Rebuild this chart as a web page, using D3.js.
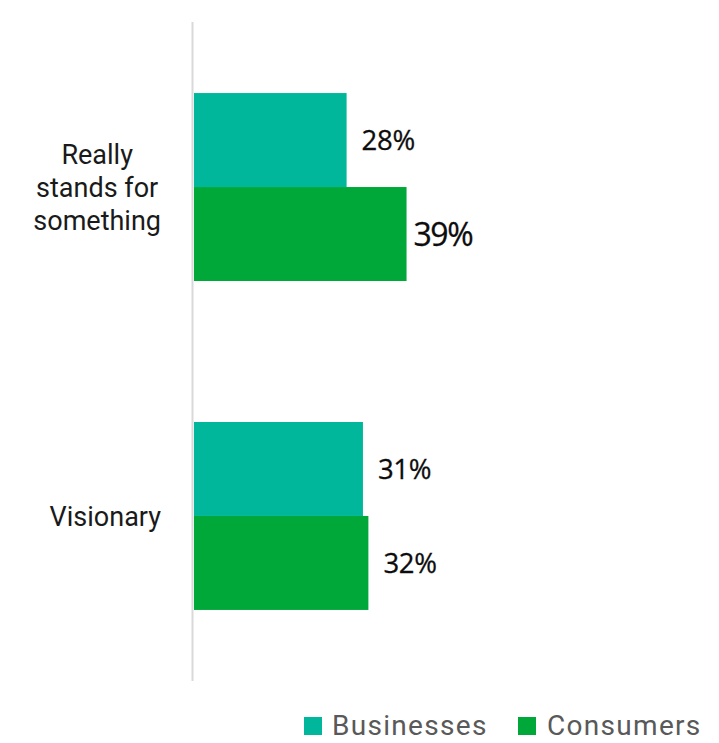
<!DOCTYPE html>
<html>
<head>
<meta charset="utf-8">
<script src="https://cdn.jsdelivr.net/npm/d3@7/dist/d3.min.js"></script>
<style>
  html, body { margin: 0; padding: 0; background: #fff; }
  svg { display: block; }
</style>
</head>
<body>
<svg id="chart" width="719" height="743"></svg>
<script>
// Share of respondents describing the brand with each attribute
const categories = [["Really", "stands for", "something"], ["Visionary"]];
const categoryKeys = ["Really stands for something", "Visionary"];
const seriesNames = ["Businesses", "Consumers"];
const businesses = [28, 31];
const consumers = [39, 32];
const seriesValues = [businesses, consumers];

const colors = { Businesses: "#00b79b", Consumers: "#00a83a" };

const svg = d3.select("#chart");

const x = d3.scaleLinear().domain([0, 40]).range([194, 412]);
const y = d3.scaleBand().domain(categoryKeys).range([22, 681])
  .paddingInner(0.4286).paddingOuter(0.216);
const ySub = d3.scaleBand().domain(seriesNames).range([0, y.bandwidth()]).padding(0);

const rows = [];
categoryKeys.forEach((c, i) => {
  seriesNames.forEach((s, j) => rows.push({ cat: c, series: s, value: seriesValues[j][i] }));
});
const maxVal = d3.max(rows, d => d.value);

// bars
svg.append("g").selectAll("rect").data(rows).join("rect")
  .attr("x", x(0))
  .attr("y", d => y(d.cat) + ySub(d.series))
  .attr("width", d => x(d.value) - x(0))
  .attr("height", ySub.bandwidth())
  .attr("fill", d => colors[d.series]);

// vertical axis line
svg.append("line")
  .attr("x1", 192.5).attr("x2", 192.5)
  .attr("y1", y.range()[0]).attr("y2", y.range()[1])
  .attr("stroke", "#d9d9d9").attr("stroke-width", 2);

// value labels (largest value drawn a little larger)
svg.append("g").selectAll("text").data(rows).join("text")
  .attr("x", d => x(d.value) + (d.value === maxVal ? 7 : 15))
  .attr("y", d => y(d.cat) + ySub(d.series) + ySub.bandwidth() / 2)
  .attr("dy", "0.36em")
  .attr("font-family", "'Open Sans', sans-serif")
  .attr("font-size", d => d.value === maxVal ? 32 : 27.5)
  .attr("letter-spacing", d => d.value === maxVal ? -1.5 : -0.3)
  .attr("fill", "#0d0d0d")
  .attr("stroke", "#0d0d0d").attr("stroke-width", 0.3)
  .text(d => d.value + "%");

// category labels: lines centred within a block right-aligned to the axis
const labelRight = 161;
const lineH = 33;
categoryKeys.forEach((c, i) => {
  const lines = categories[i];
  const g = svg.append("g");
  const cy = y(c) + y.bandwidth() / 2;
  const t = g.selectAll("text").data(lines).join("text")
    .attr("font-family", "Roboto, sans-serif")
    .attr("font-size", 27)
    .attr("fill", "#1a1a1a")
    .attr("text-anchor", "middle")
    .attr("y", (d, k) => cy + (k - (lines.length - 1) / 2) * lineH)
    .attr("dy", "0.36em")
    .text(d => d);
  let maxW = 0;
  t.each(function () { maxW = Math.max(maxW, this.getComputedTextLength()); });
  t.attr("x", labelRight - maxW / 2);
});

// legend
const legend = svg.append("g");
const legendItems = [
  { name: "Businesses", sx: 304, tx: 332 },
  { name: "Consumers", sx: 518, tx: 547 }
];
legendItems.forEach(it => {
  legend.append("rect").attr("x", it.sx).attr("y", 717).attr("width", 18).attr("height", 18)
    .attr("fill", colors[it.name]);
  legend.append("text").attr("x", it.tx).attr("y", 735)
    .attr("font-family", "Roboto, sans-serif").attr("font-size", 28)
    .attr("letter-spacing", 1.3)
    .attr("fill", "#595959").text(it.name);
});
</script>
</body>
</html>
